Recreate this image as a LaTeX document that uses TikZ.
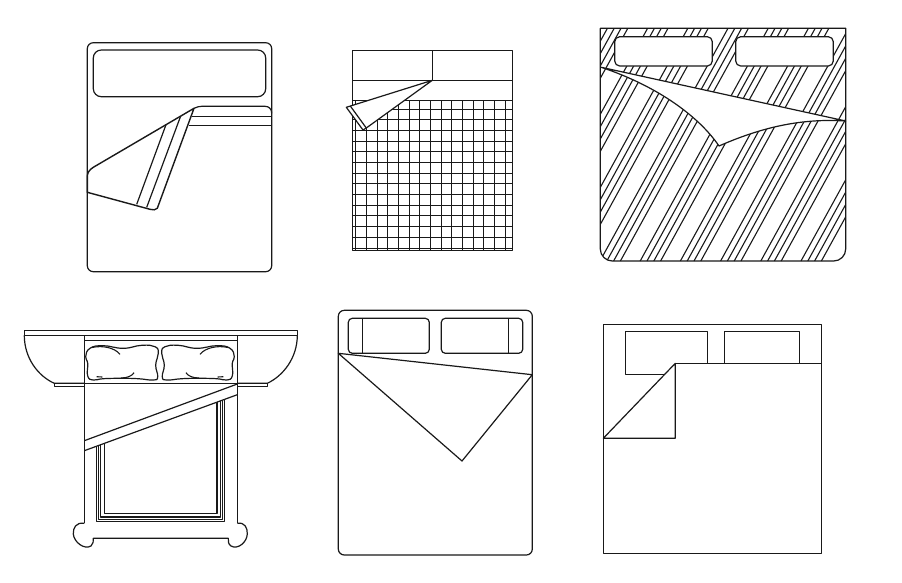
\documentclass[tikz,border=0pt]{standalone}
\usepackage{xcolor}
\usepackage{tikz}

\tikzset{
  plan/.style={line width=1.2pt, line join=round, black!90},
  sheet/.style={plan, fill=white},
  thinline/.style={line width=1.1pt, black!90}
}
\newcommand{\pillowshape}{%
  \draw[sheet] plot[smooth cycle, tension=.8] coordinates {(90,348.3) (103.3,345.7) (123.3,348.3) (141.7,345.3) (155,346.7) (158.3,353.3) (155.7,365) (157.7,376.7) (153.3,380) (138.3,378.7) (121.7,378.3) (103.3,378.7) (93.3,380) (87.7,376) (87.7,363.3) (85.7,356.7)};
  \draw[thinline] (92,347.5) .. controls (103,345) and (115,348) .. (120,354.3);
  \draw[thinline] (121,378) .. controls (127,378) and (132,376) .. (134,372.7);
  \draw[thinline] (96.7,376.7) -- (102.3,377);
}

\begin{document}
\begin{tikzpicture}[x=1pt, y=-1pt, plan]
  \useasboundingbox[fill=white] (0,0) rectangle (902,582);

  % turned back corner
  \draw (87.3,42.7) [rounded corners=6pt] rectangle (271.7,271.7);
  \draw[rounded corners=8pt] (93.3,50) rectangle (265.7,96.7);
  \draw (194,108.3) .. controls (197,107) and (199,106.3) .. (201.7,106.3) -- (265,106.3) .. controls (269,106.3) and (271.7,109) .. (271.7,113.3);
  \draw (191.7,116.3) -- (271.7,116.3);
  \draw (189,125.3) -- (271.7,125.3);
  \draw[sheet, line width=1.4pt] (194,108.3) -- (93.3,167.3) .. controls (89,170) and (87.3,173) .. (87.3,176.7) -- (87.3,192.3) -- (150,209.3) .. controls (153,210.3) and (156,210) .. (157.3,208.3) -- cycle;
  \draw (166,124.7) -- (136.7,204.3);
  \draw (180.7,116) -- (146.7,207.3);

  % checked bed
  \foreach \gx in {0,...,14} \draw[thinline] ({int(355.7+10.67*\gx)+.5},100.7) -- ({int(355.7+10.67*\gx)+.5},250.7);
  \foreach \gy in {0,...,13} \draw[thinline] (352.3,{int(109.3+10.67*\gy)+.5}) -- (512.3,{int(109.3+10.67*\gy)+.5});
  \draw (352.3,50.3) rectangle (512.3,250.7);
  \draw (352.3,80.3) -- (512.3,80.3);
  \draw (432.3,50.3) -- (432.3,80.3);
  \draw (352.3,100.7) -- (512.3,100.7);
  \draw[sheet] (432.3,80.3) -- (346.3,107.3) -- (363,130) -- (366.3,128) -- cycle;
  \draw (350.3,106) -- (366.3,128);

  % striped bed
  \begin{scope}
    \clip (600.3,28.3) [rounded corners=12pt] -- (600.3,261) -- (845.7,261) [sharp corners] -- (845.7,28.3) -- cycle;
    \foreach \k in {-4,...,6}
      \foreach \d in {0,6.8,13.6,20.4}
        \draw[thinline] (600+40.2*\k+\d,261) -- (728+40.2*\k+\d,28.3);
  \end{scope}
  \draw (600.3,28.3) [rounded corners=12pt] -- (600.3,261) -- (845.7,261) [sharp corners] -- (845.7,28.3) -- cycle;
  \draw[sheet, rounded corners=5pt] (614.7,36.7) rectangle (712.3,66);
  \draw[sheet, rounded corners=5pt] (735.7,36.7) rectangle (833.3,66);
  \draw[sheet] (601.3,67.3) -- (845.7,121) .. controls (800,118) and (760,128) .. (719,146) .. controls (700,118) and (660,87) .. cycle;

  % headboard with side tables
  \draw (24.3,330.3) rectangle (297.3,335.3);
  \draw (24.3,335.3) .. controls (24.3,358) and (38,376) .. (54.3,383.3) -- (84.3,383.3);
  \draw (297.3,335.3) .. controls (297.3,358) and (283,376) .. (267.3,383.3) -- (237.3,383.3);
  \draw (54.3,383.3) -- (54.3,386.7) -- (84.3,386.7);
  \draw (267.3,383.3) -- (267.3,386.7) -- (237.3,386.7);
  \draw (84.3,335.3) -- (84.3,523.3);
  \draw (237.3,335.3) -- (237.3,523.3);
  \draw (84.3,340.7) -- (237.3,340.7);
  \draw (84.3,383.3) -- (237.3,383.3);
  \pillowshape
  \begin{scope}[xshift=320pt, xscale=-1]
    \pillowshape
  \end{scope}
  \begin{scope}
    \clip (84.3,450.7) -- (237.3,394.7) -- (237.3,530) -- (84.3,530) -- cycle;
    \foreach \a/\b/\c in {96.3/224.3/521.3, 98.3/222.3/519.3, 100.3/220.3/517, 104.3/217/513.3}
      \draw[thinline] (\a,390) -- (\a,\c) -- (\b,\c) -- (\b,390);
  \end{scope}
  \draw (84.3,440.7) -- (237.3,384);
  \draw (84.3,450.7) -- (237.3,394.7);
  \draw (84.3,523.3) .. controls (76,522) and (73,528) .. (73.3,534) .. controls (74,542) and (84,550) .. (91,546) .. controls (93.5,544) and (93.3,541) .. (93.3,538.3) -- (228.3,538.3) .. controls (228.3,541) and (228,544) .. (231,546) .. controls (238,550) and (247,542) .. (247.3,534) .. controls (247.5,528) and (245,522) .. (237.3,523.3);

  % plain bed
  \draw[rounded corners=6pt] (338.3,310.3) rectangle (532.3,555);
  \draw[rounded corners=4pt] (348.3,318.3) rectangle (429.3,353.3);
  \draw (362.3,318.3) -- (362.3,353.3);
  \draw[rounded corners=4pt] (441.3,318.3) rectangle (522.7,353.3);
  \draw (508.7,318.3) -- (508.7,353.3);
  \draw (338.3,353.3) -- (532.3,374.7) -- (462,461) -- cycle;

  % square bed
  \draw (603.3,324.3) rectangle (821.3,553.4);
  \draw (675.3,363.3) -- (821.3,363.3);
  \draw (665,374.3) -- (625.3,374.3) -- (625.3,331.3) -- (707.7,331.3) -- (707.7,363.3);
  \draw (724.3,363.3) -- (724.3,331.3) -- (799.3,331.3) -- (799.3,363.3);
  \draw (603.3,438.3) -- (675.3,363.3) -- (675.3,438.3) -- cycle;
\end{tikzpicture}
\end{document}
